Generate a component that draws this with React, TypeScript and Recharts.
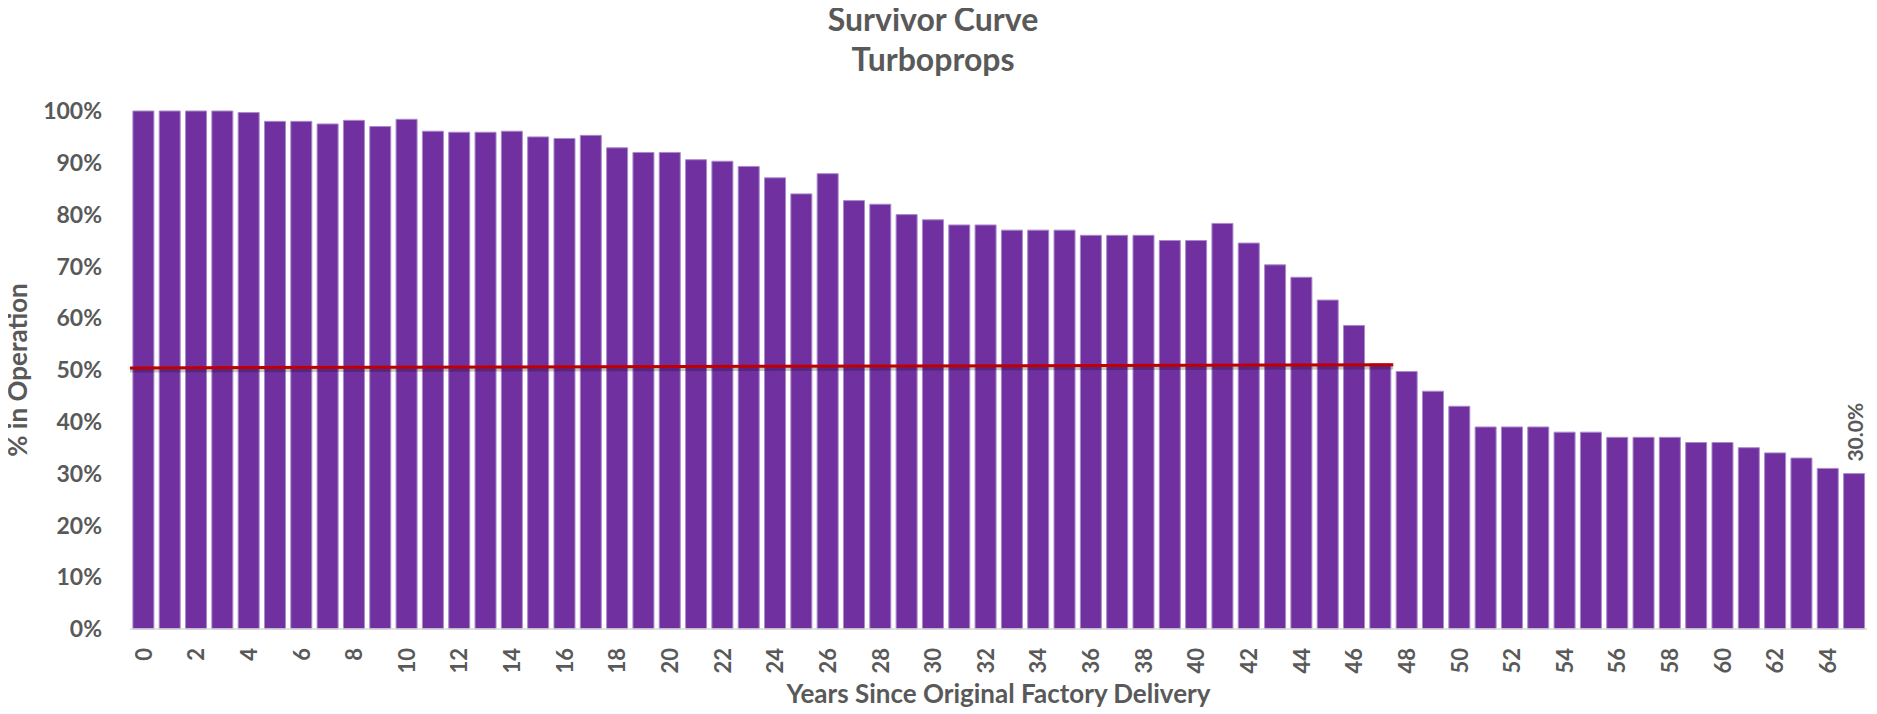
import React from 'react';
import { ComposedChart, Bar, XAxis, YAxis, ReferenceLine, LabelList } from 'recharts';

const years = [
  '0', '1', '2', '3', '4', '5', '6', '7', '8', '9',
  '10', '11', '12', '13', '14', '15', '16', '17', '18', '19',
  '20', '21', '22', '23', '24', '25', '26', '27', '28', '29',
  '30', '31', '32', '33', '34', '35', '36', '37', '38', '39',
  '40', '41', '42', '43', '44', '45', '46', '47', '48', '49',
  '50', '51', '52', '53', '54', '55', '56', '57', '58', '59',
  '60', '61', '62', '63', '64', '65',
];

const survival = [
  100, 100, 100, 100, 99.7, 98, 98, 97.5, 98.2, 97,
  98.4, 96.1, 95.9, 95.9, 96.1, 95, 94.7, 95.3, 92.9, 92,
  92, 90.6, 90.3, 89.3, 87.1, 84, 87.9, 82.7, 82, 80,
  79, 78, 78, 77, 77, 77, 76, 76, 76, 75,
  75, 78.3, 74.5, 70.3, 67.9, 63.5, 58.6, 51.2, 49.7, 45.9,
  43, 39, 39, 39, 38, 38, 37, 37, 37, 36,
  36, 35, 34, 33, 31, 30,
];

const yTicks = [0, 10, 20, 30, 40, 50, 60, 70, 80, 90, 100];

// half-life reference line: from start of year 0 to start of year 48
const medianLineX = ['0', '48'];
const medianLineY = [50.4, 51.0];

const titleLines = ['Survivor Curve', 'Turboprops'];
const xAxisTitle = 'Years Since Original Factory Delivery';
const yAxisTitle = '% in Operation';

const data = years.map((year, i) => ({ year, value: survival[i] }));

const FONT = 'Lato, "Open Sans", sans-serif';
const GRAY = '#595959';
const PURPLE = '#7030A0';
const RED = '#C00000';

const W = 1861;
const H = 700;

const XTick = (props: any) => {
  const { x, y, payload } = props;
  return (
    <text
      x={x}
      y={y}
      transform={`rotate(-90, ${x}, ${y})`}
      textAnchor="end"
      dominantBaseline="central"
      fill={GRAY}
      fontSize={22}
      fontWeight={700}
      fontFamily={FONT}
    >
      {payload.value}
    </text>
  );
};

const LastBarLabel = (props: any) => {
  const { x, y, width, value, index } = props;
  if (index !== survival.length - 1) return null;
  const cx = x + width / 2;
  const ty = y - 12;
  return (
    <text
      x={cx}
      y={ty}
      transform={`rotate(-90, ${cx}, ${ty})`}
      textAnchor="start"
      dominantBaseline="central"
      fill={GRAY}
      fontSize={21}
      fontWeight={700}
      fontFamily={FONT}
    >
      {`${Number(value).toFixed(1)}%`}
    </text>
  );
};

export default function App() {
  return (
    <div style={{ position: 'relative', width: W, height: H }}>
      <ComposedChart
        width={W}
        height={H}
        data={data}
        margin={{ top: 103, right: 2, bottom: 0, left: 0 }}
        barCategoryGap="11%"
      >
        <XAxis
          dataKey="year"
          interval={1}
          tickLine={false}
          tickSize={0}
          tickMargin={19}
          height={79}
          axisLine={{ stroke: '#d9d9d9', strokeWidth: 1.5 }}
          tick={<XTick />}
          label={{
            content: (p: any) => {
              const vb = p.viewBox || {};
              return (
                <text
                  x={vb.x + vb.width / 2}
                  y={695}
                  textAnchor="middle"
                  fill={GRAY}
                  fontSize={26}
                  fontWeight={700}
                  fontFamily={FONT}
                >
                  {xAxisTitle}
                </text>
              );
            },
          }}
        />
        <YAxis
          domain={[0, 100]}
          ticks={yTicks}
          width={122}
          tickLine={false}
          axisLine={false}
          tickSize={0}
          tickMargin={28}
          tickFormatter={(v: number) => `${v}%`}
          tick={{ fill: GRAY, fontSize: 23, fontWeight: 700, fontFamily: FONT }}
        />
        <Bar
          dataKey="value"
          fill={PURPLE}
          stroke="#a98bc9"
          strokeWidth={1}
          isAnimationActive={false}
        >
          <LabelList dataKey="value" content={<LastBarLabel />} />
        </Bar>
        <ReferenceLine
          position="start"
          segment={[
            { x: medianLineX[0], y: medianLineY[0] - 0.5 },
            { x: medianLineX[1], y: medianLineY[1] - 0.5 },
          ]}
          stroke="rgba(0,0,0,0.22)"
          strokeWidth={4}
          ifOverflow="visible"
        />
        <ReferenceLine
          position="start"
          segment={[
            { x: medianLineX[0], y: medianLineY[0] },
            { x: medianLineX[1], y: medianLineY[1] },
          ]}
          stroke={RED}
          strokeWidth={3}
          ifOverflow="visible"
        />
      </ComposedChart>
      <svg
        width={W + 16}
        height={H + 14}
        style={{ position: 'absolute', left: -8, top: -8, pointerEvents: 'none', overflow: 'visible' }}
      >
        {titleLines.map((t, i) => (
          <text
            key={t}
            x={933}
            y={31 + i * 40}
            textAnchor="middle"
            fill={GRAY}
            fontSize={32}
            fontWeight={700}
            fontFamily={FONT}
          >
            {t}
          </text>
        ))}
        <text
          x={27}
          y={370}
          transform="rotate(-90, 27, 370)"
          textAnchor="middle"
          fill={GRAY}
          fontSize={26}
          fontWeight={700}
          fontFamily={FONT}
        >
          {yAxisTitle}
        </text>
      </svg>
    </div>
  );
}
